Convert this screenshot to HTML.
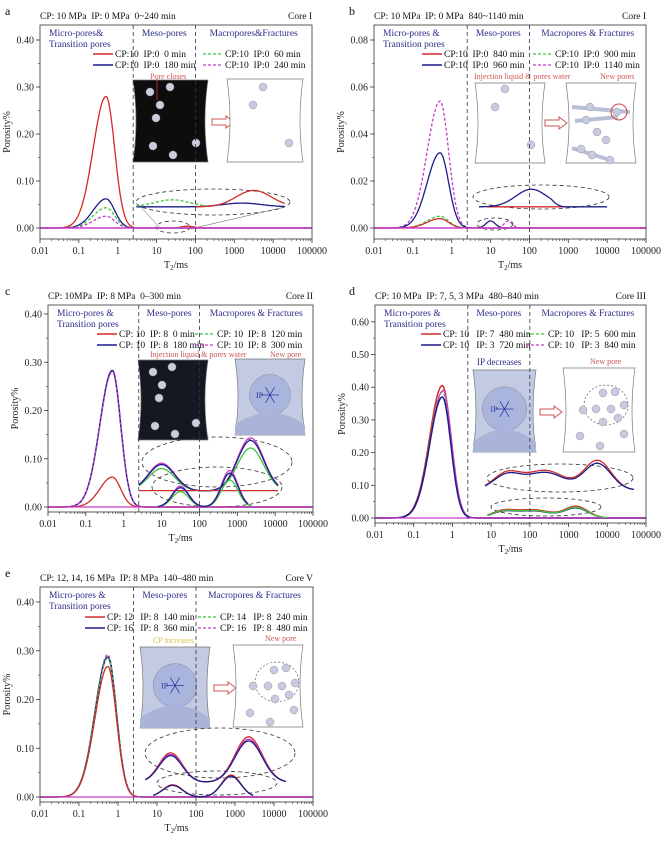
<!DOCTYPE html>
<html><head><meta charset="utf-8"><style>
body{margin:0;background:#fff}
svg{display:block;font-family:"Liberation Serif",serif}
</style></head><body>
<svg id="s" width="663" height="841" viewBox="0 0 663 841" xmlns="http://www.w3.org/2000/svg"></svg>
<script>
const S=document.getElementById('s');let h='';
const R='#d42a2a',B='#1c1c8a',GR='#3ec43e',M='#c83cc8',NV='#2b2b8c';
function G(A,mu,sl,sr){return l=>{const s=l<mu?sl:(sr||sl);const d=(l-mu)/s;return A*Math.exp(-d*d/2);}}
function sum(...fs){return l=>fs.reduce((a,f)=>a+f(l),0);}
function panel(p){
 const L=p.L,Rr=p.R,T=p.T,Bt=p.B,y0=p.y0,ypx=p.ypx;
 const X=l=>L+(l+2)/7*(Rr-L), Y=v=>y0-v*ypx;
 if(p.ins)h+=p.ins(X,Y);
 for(const c of p.cv){
  let d='';const a=Math.log10(c.x0||0.01),b=Math.log10(c.x1||100000);
  for(let l=a;l<=b+1e-9;l+=0.02){d+=(d?'L':'M')+X(l).toFixed(1)+','+Y((c.b||0)+c.f(l)).toFixed(1);}
  h+=`<path d="${d}" fill="none" stroke="${c.c}" stroke-width="${c.w||1.3}" ${c.d?'stroke-dasharray="3,2"':''}/>`;
 }
 h+=`<rect x="${L}" y="${T}" width="${Rr-L}" height="${Bt-T}" fill="none" stroke="#333" stroke-width="0.8"/>`;
 for(const v of [2.5,100]){const x=X(Math.log10(v));h+=`<line x1="${x}" y1="${T}" x2="${x}" y2="${Bt}" stroke="#334" stroke-width="0.8" stroke-dasharray="4,3"/>`;}
 const labs=['0.01','0.1','1','10','100','1000','10000','100000'];
 for(let k=0;k<8;k++){const x=X(k-2);h+=`<line x1="${x}" y1="${Bt}" x2="${x}" y2="${Bt+4}" stroke="#333" stroke-width="0.8"/><text x="${x}" y="${Bt+15}" font-size="10" text-anchor="middle" fill="#222">${labs[k]}</text>`;
  if(k<7)for(let m=2;m<10;m++){const xm=X(k-2+Math.log10(m));h+=`<line x1="${xm}" y1="${Bt}" x2="${xm}" y2="${Bt+2}" stroke="#333" stroke-width="0.6"/>`;}}
 h+=`<text x="${(L+Rr)/2}" y="${Bt+29}" font-size="10" text-anchor="middle" fill="#222">T<tspan font-size="7" dy="2">2</tspan><tspan dy="-2">/ms</tspan></text>`;
 for(const t of p.yt){const y=Y(t);h+=`<line x1="${L-4}" y1="${y}" x2="${L}" y2="${y}" stroke="#333" stroke-width="0.8"/><text x="${L-6}" y="${y+3.5}" font-size="10" text-anchor="end" fill="#222">${t.toFixed(2)}</text>`;}
 for(let i=0;i<p.yt.length-1;i++){const y=Y((p.yt[i]+p.yt[i+1])/2);h+=`<line x1="${L-2}" y1="${y}" x2="${L}" y2="${y}" stroke="#333" stroke-width="0.6"/>`;}
 h+=`<text transform="translate(${L-30},${(T+Bt)/2}) rotate(-90)" font-size="10" text-anchor="middle" fill="#222">Porosity%</text>`;
 h+=`<text x="${p.lx}" y="${T-10}" font-size="12" fill="#111">${p.let}</text>`;
 h+=`<text x="${L}" y="${T-6}" font-size="9.5" fill="#111">${p.title}</text><text x="${Rr}" y="${T-6}" font-size="9.5" text-anchor="end" fill="#111">${p.core}</text>`;
 const d1=X(Math.log10(2.5)),d2=X(2);
 h+=`<text x="${L+9}" y="${T+11}" font-size="9.5" fill="${NV}">${p.mic}</text><text x="${L+9}" y="${T+22}" font-size="9.5" fill="${NV}">Transition pores</text>`;
 h+=`<text x="${d1+(d2-d1)/2}" y="${T+11}" font-size="9.5" text-anchor="middle" fill="${NV}">Meso-pores</text>`;
 h+=`<text x="${(d2+Rr)/2}" y="${T+11}" font-size="9.5" text-anchor="middle" fill="${NV}">${p.mac}</text>`;
 const lg=p.lg;const cols=[[R,0,0,0],[GR,1,0,1],[B,0,1,0],[M,1,1,1]];
 cols.forEach((q,i)=>{const cx=q[1]?lg.x2:lg.x1,y=lg.y+(q[2]?11:0);
  h+=`<line x1="${cx}" y1="${y-3}" x2="${cx+20}" y2="${y-3}" stroke="${q[0]}" stroke-width="${q[3]?1.2:1.6}" ${q[3]?'stroke-dasharray="3,2"':''}/><text x="${cx+22}" y="${y}" font-size="9.5" fill="#111" xml:space="preserve">${lg.t[i]}</text>`;});
}
function ell(cx,cy,rx,ry){return `<ellipse cx="${cx}" cy="${cy}" rx="${rx}" ry="${ry}" fill="none" stroke="#333" stroke-width="0.8" stroke-dasharray="4,3"/>`;}
function circ(pts,fill,r){return pts.map(q=>`<circle cx="${q[0]}" cy="${q[1]}" r="${r||4}" fill="${fill}" stroke="#99a" stroke-width="0.5"/>`).join('');}
function box(x,y,w,hh,fill){return `<path d="M${x},${y} L${x+w},${y} Q${x+w-6},${y+hh/2} ${x+w},${y+hh} L${x},${y+hh} Q${x+6},${y+hh/2} ${x},${y}Z" fill="${fill}" stroke="#777" stroke-width="0.7"/>`;}
function arrow(x,y){return `<path d="M${x},${y-3} L${x+14},${y-3} L${x+14},${y-6} L${x+22},${y} L${x+14},${y+6} L${x+14},${y+3} L${x},${y+3}Z" fill="#fff" stroke="#c55" stroke-width="1"/>`;}
function netbox(x,y,w,hh){let s=box(x,y,w,hh,'#c3cbe3');
 s+=`<circle cx="${x+w/2}" cy="${y+hh/2-2}" r="${hh*0.27}" fill="#a9b5dc" stroke="#889" stroke-width="0.5"/>`;
 s+=`<path d="M${x},${y+hh-10} Q${x+w/2},${y+hh-35} ${x+w},${y+hh-10} L${x+w},${y+hh} L${x},${y+hh}Z" fill="#aab4d8"/>`;
 const cx=x+w/2,cy=y+hh/2-2;for(let a=0;a<3;a++){const an=a*Math.PI/3;s+=`<line x1="${cx-9*Math.cos(an)}" y1="${cy-9*Math.sin(an)}" x2="${cx+9*Math.cos(an)}" y2="${cy+9*Math.sin(an)}" stroke="#2a3aa8" stroke-width="0.8"/>`;}
 s+=`<text x="${cx-14}" y="${cy+3}" font-size="8" fill="#2a3aa8">IP</text>`;return s;}
const mainA=(A,mu)=>G(A,mu||-0.3,0.33,0.22);
const yt4=[0,0.1,0.2,0.3,0.4];
panel({L:40,R:312,T:25,B:239,y0:228,ypx:470,yt:yt4,lx:5,let:'a',title:'CP: 10 MPa&#160; IP: 0 MPa&#160; 0~240 min',core:'Core I',mic:'Micro-pores&amp;',mac:'Macropores&amp;Fractures',
 lg:{x1:93,x2:203,y:57,t:['CP:10  IP:0  0 min','CP:10  IP:0  60 min','CP:10  IP:0  180 min','CP:10  IP:0  240 min']},
 ins:(X,Y)=>box(133,80,75,82,'#0d0d0d')+circ([[150,92],[170,87],[160,105],[156,118],[153,146],[196,143],[173,155]],'#ccd')+arrow(212,122)+box(227,79,76,83,'#fff')+circ([[263,87],[253,105],[289,143]],'#c8cbe0')+ell(213,202,77,13)+ell(173,227,17,6)+`<line x1="140" y1="206" x2="160" y2="228" stroke="#555" stroke-width="0.5"/><line x1="190" y1="229" x2="285" y2="207" stroke="#555" stroke-width="0.5"/><text x="150" y="79" font-size="8" fill="#c55">Pore closes</text><line x1="157" y1="79" x2="157" y2="100" stroke="#c33" stroke-width="0.8"/>`,
 cv:[{c:R,f:sum(mainA(0.28),G(0.004,1.8,0.15))},{c:B,f:mainA(0.062)},{c:GR,d:1,f:mainA(0.043)},{c:M,d:1,f:mainA(0.025)},{c:M,f:l=>0,w:1.5},
  {c:B,b:0.045,x0:3,x1:20000,f:G(0.008,3.2,0.5)},{c:GR,d:1,b:0.045,x0:3,x1:200,f:G(0.015,1.4,0.45)},{c:R,b:0.045,x0:100,x1:20000,f:G(0.035,3.5,0.45)}]});
panel({L:374,R:646,T:25,B:239,y0:228,ypx:2350,yt:[0,0.02,0.04,0.06,0.08],lx:349,let:'b',title:'CP: 10 MPa&#160; IP: 0 MPa&#160; 840~1140 min',core:'Core I',mic:'Micro-pores &amp;',mac:'Macropores &amp; Fractures',
 lg:{x1:422,x2:533,y:57,t:['CP:10  IP:0  840 min','CP:10  IP:0  900 min','CP:10  IP:0  960 min','CP:10  IP:0  1140 min']},
 ins:(X,Y)=>box(475,83,70,80,'#fff')+circ([[505,89],[495,107],[531,145]],'#c8cbe0')+arrow(545,123)+box(566,83,70,80,'#fff')+`<path d="M572,107 L630,112 M575,121 L618,117 M572,148 L610,160" stroke="#b8c0d8" stroke-width="4"/>`+circ([[590,107],[586,120],[597,132],[606,140],[581,149],[592,155],[610,160],[617,112]],'#c8cbe0',4)+`<circle cx="619" cy="112" r="8" fill="none" stroke="#c44"/><text x="474" y="79" font-size="8" fill="#c55">Injection liquid &amp; pores water</text><text x="600" y="79" font-size="8" fill="#c55">New pores</text>`+ell(541,197,68,12)+ell(495,224,18,6),
 cv:[{c:M,d:1,f:sum(mainA(0.054),G(0.003,1.45,0.1))},{c:B,f:sum(mainA(0.032),G(0.003,1,0.12))},{c:GR,d:1,f:mainA(0.005)},{c:R,f:mainA(0.004)},{c:M,f:l=>0,w:1.5},
  {c:R,b:0.009,x0:8,x1:800,f:l=>0},{c:B,b:0.009,x0:5,x1:10000,f:l=>l<2.9?G(0.0075,2.05,0.4)(l)*Math.min(1,(2.9-l)*3):0}]});
const c1=sum(G(0.055,1.0,0.35),G(0.105,3.35,0.35)),c2=sum(G(0.04,1.5,0.22),G(0.07,2.8,0.22));
panel({L:48,R:313,T:305,B:512,y0:507,ypx:482.5,yt:yt4,lx:5,let:'c',title:'CP: 10MPa&#160; IP: 8 MPa&#160; 0–300 min',core:'Core II',mic:'Micro-pores &amp;',mac:'Macropores &amp; Fractures',
 lg:{x1:97,x2:195,y:337,t:['CP: 10  IP: 8  0 min','CP: 10  IP: 8  120 min','CP: 10  IP: 8  180 min','CP: 10  IP: 8  300 min']},
 ins:(X,Y)=>box(138,360,70,80,'#151820')+circ([[153,372],[172,367],[162,385],[159,398],[155,426],[196,423],[175,434]],'#ccd')+netbox(235,359,70,76)+`<text x="150" y="357" font-size="8" fill="#c55">Injection liquid &amp; pores water</text><text x="270" y="357" font-size="8" fill="#c55">New pore</text>`+ell(217,462,75,25)+ell(217,487,65,20),
 cv:[{c:B,f:mainA(0.283),w:1.5},{c:M,d:1,f:mainA(0.28)},{c:R,f:mainA(0.062)},{c:M,f:l=>0,w:1.3},
  {c:M,b:0.033,x0:2.5,x1:12000,f:l=>c1(l)*1.05},{c:GR,b:0.033,x0:2.5,x1:12000,f:l=>c1(l)*0.85},{c:B,b:0.033,x0:2.5,x1:12000,f:c1},{c:R,b:0.03,x0:2.5,x1:12000,f:l=>0.004},
  {c:GR,x0:8,x1:2500,f:l=>c2(l)*0.8},{c:M,x0:8,x1:2000,f:l=>c2(l)*1.08},{c:B,x0:8,x1:2000,f:c2}]});
const d1f=sum(G(0.05,1.4,0.35),G(0.06,2.4,0.5),G(0.09,3.75,0.35)),d2f=sum(G(0.02,1.3,0.3),G(0.025,2.1,0.45),G(0.035,3.2,0.3));
panel({L:375,R:646,T:305,B:523,y0:518,ypx:327,yt:[0,0.1,0.2,0.3,0.4,0.5,0.6],lx:349,let:'d',title:'CP: 10 MPa&#160; IP: 7, 5, 3 MPa&#160; 480–840 min',core:'Core III',mic:'Micro-pores &amp;',mac:'Macropores &amp; Fractures',
 lg:{x1:421,x2:526,y:337,t:['CP: 10   IP: 7  480 min','CP: 10   IP: 5  600 min','CP: 10   IP: 3  720 min','CP: 10   IP: 3  840 min']},
 ins:(X,Y)=>netbox(473,370,63,82)+arrow(540,412)+box(563,368,72,84,'#fff')+`<ellipse cx="606" cy="405" rx="22" ry="20" fill="none" stroke="#444" stroke-width="0.6" stroke-dasharray="2,2"/>`+circ([[603,393],[615,392],[596,409],[611,409],[624,405],[618,418],[603,422],[583,410],[580,436],[624,434],[600,446]],'#c8cbe0')+`<text x="477" y="365" font-size="9" fill="${NV}">IP decreases</text><text x="590" y="364" font-size="8" fill="#c55">New pore</text>`+ell(560,478,73,14)+ell(546,507,55,9),
 cv:[{c:R,f:mainA(0.405,-0.26),w:1.5},{c:GR,d:1,f:mainA(0.385,-0.26)},{c:M,f:mainA(0.39,-0.24)},{c:B,f:mainA(0.37,-0.26),w:1.5},{c:M,f:l=>0,w:1.3},
  {c:R,x0:8,x1:10000,f:d2f},{c:B,x0:8,x1:10000,f:l=>d2f(l)*0.85},{c:GR,x0:8,x1:10000,f:l=>d2f(l)*0.9},
  {c:R,b:0.085,x0:7,x1:50000,f:d1f},{c:B,b:0.085,x0:7,x1:50000,f:l=>d1f(l)*0.9}]});
const e1=sum(G(0.055,1.35,0.3),G(0.085,3.35,0.35)),e2=sum(G(0.025,1.4,0.25),G(0.045,2.9,0.25));
panel({L:40,R:313,T:587,B:802,y0:797,ypx:487.5,yt:yt4,lx:5,let:'e',title:'CP: 12, 14, 16 MPa&#160; IP: 8 MPa&#160; 140–480 min',core:'Core V',mic:'Micro-pores &amp;',mac:'Macropores &amp; Fractures',
 lg:{x1:85,x2:198,y:620,t:['CP: 12   IP: 8  140 min','CP: 14   IP: 8  240 min','CP: 16   IP: 8  360 min','CP: 16   IP: 8  480 min']},
 ins:(X,Y)=>netbox(140,647,70,81)+arrow(214,688)+box(233,645,70,82,'#fff')+`<ellipse cx="277" cy="682" rx="22" ry="20" fill="none" stroke="#444" stroke-width="0.6" stroke-dasharray="2,2"/>`+circ([[274,670],[286,668],[268,686],[282,686],[295,683],[289,695],[275,699],[253,686],[250,713],[294,710],[270,722]],'#c8cbe0')+`<text x="153" y="643" font-size="8" fill="#d8c040">CP increases</text><text x="265" y="641" font-size="8" fill="#c55">New pore</text>`+ell(220,753,75,25)+ell(217,783,60,12),
 cv:[{c:M,d:1,f:mainA(0.292,-0.26)},{c:B,f:mainA(0.287,-0.26),w:1.5},{c:GR,d:1,f:mainA(0.285,-0.26)},{c:R,f:mainA(0.268,-0.26)},{c:M,f:l=>0,w:1.3},
  {c:R,x0:8,x1:3000,f:e2},{c:B,x0:8,x1:3000,f:l=>e2(l)*0.95},
  {c:R,b:0.03,x0:5,x1:20000,f:l=>e1(l)*1.1},{c:M,b:0.03,x0:5,x1:20000,f:l=>e1(l)*1.04},{c:B,b:0.03,x0:5,x1:20000,f:e1}]});
S.innerHTML=h;
</script>
</body></html>
